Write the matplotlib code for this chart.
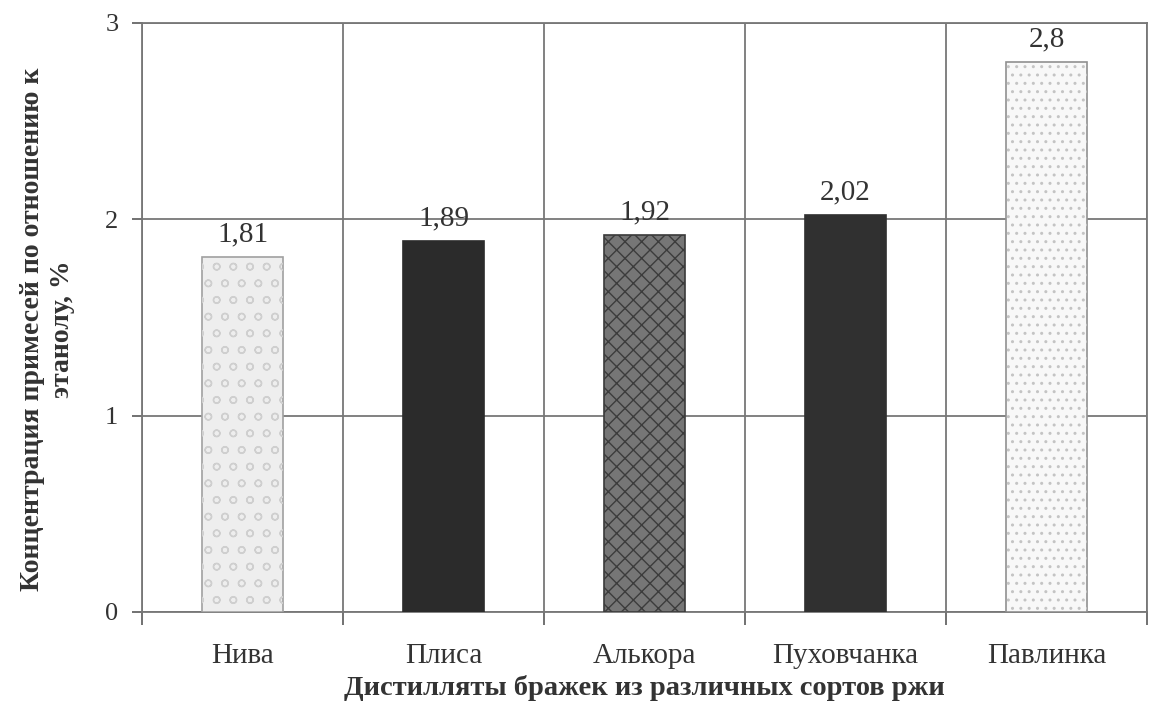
import matplotlib
matplotlib.use('Agg')
import matplotlib.pyplot as plt
from matplotlib.ticker import FixedLocator

# Data
varieties = ['Нива', 'Плиса', 'Алькора', 'Пуховчанка', 'Павлинка']
concentration = [1.81, 1.89, 1.92, 2.02, 2.8]
value_labels = ['1,81', '1,89', '1,92', '2,02', '2,8']
y_ticks = [0, 1, 2, 3]

# bar fills imitating the textures of the original print
face_colors = ['#eeeeee', '#2b2b2b', '#767676', '#303030', '#f8f8f8']
edge_colors = ['#a0a0a0', '#2b2b2b', '#3a3a3a', '#303030', '#909090']
hatches = ['o', None, 'xx', None, '..']
hatch_colors = ['#cfcfcf', None, '#3c3c3c', None, '#c4c4c4']

plt.rcParams['font.family'] = ['Liberation Serif', 'DejaVu Serif']
plt.rcParams['hatch.linewidth'] = 1.0

fig = plt.figure(figsize=(11.49, 7.07), dpi=100)
ax = fig.add_axes([0.1236, 0.1344, 0.8747, 0.8331])

x = list(range(len(varieties)))
ax.bar(x, concentration, width=0.4, color=face_colors, edgecolor=edge_colors,
       linewidth=1.2, zorder=3)
# texture overlay, drawn in its own lighter colour
for xi, val, h, hc in zip(x, concentration, hatches, hatch_colors):
    if h:
        ax.bar(xi, val, width=0.4, fill=False, hatch=h, edgecolor=hc,
               linewidth=0, zorder=3.5)

for xi, val, lab in zip(x, concentration, value_labels):
    ax.annotate(lab, (xi, val), xytext=(0, 7), textcoords='offset points',
                ha='center', va='bottom', fontsize=21, color='#333333', zorder=4)

ax.set_xlim(-0.5, len(varieties) - 0.5)
ax.set_ylim(0, 3)

# category labels at centres, tick marks at the boundaries
ax.set_xticks(x)
ax.set_xticklabels(varieties, fontsize=21, color='#333333')
ax.tick_params(axis='x', which='major', length=0, pad=22)
ax.xaxis.set_minor_locator(FixedLocator([i - 0.5 for i in range(len(varieties) + 1)]))
ax.tick_params(axis='x', which='minor', length=9, width=1.3, color='#666666', direction='out')

ax.set_yticks(y_ticks)
ax.set_yticklabels([str(v) for v in y_ticks], fontsize=19, color='#333333')
ax.tick_params(axis='y', length=7, width=1.3, color='#666666', pad=10)

# grid: horizontal at integer values, vertical at category boundaries
ax.grid(True, axis='y', color='#777777', linewidth=1.3, zorder=0)
ax.grid(True, axis='x', which='minor', color='#777777', linewidth=1.3, zorder=0)
for s in ax.spines.values():
    s.set_color('#777777')
    s.set_linewidth(1.3)

ax.set_xlabel('Дистилляты бражек из различных сортов ржи', fontsize=20.5,
              fontweight='bold', color='#333333', labelpad=5)
ax.set_ylabel('Концентрация примесей по отношению к\nэтанолу, %', fontsize=20,
              fontweight='bold', color='#333333', labelpad=22, linespacing=1.25)
ax.yaxis.label.set_y(0.48)

fig.savefig('out.png', dpi=100)
